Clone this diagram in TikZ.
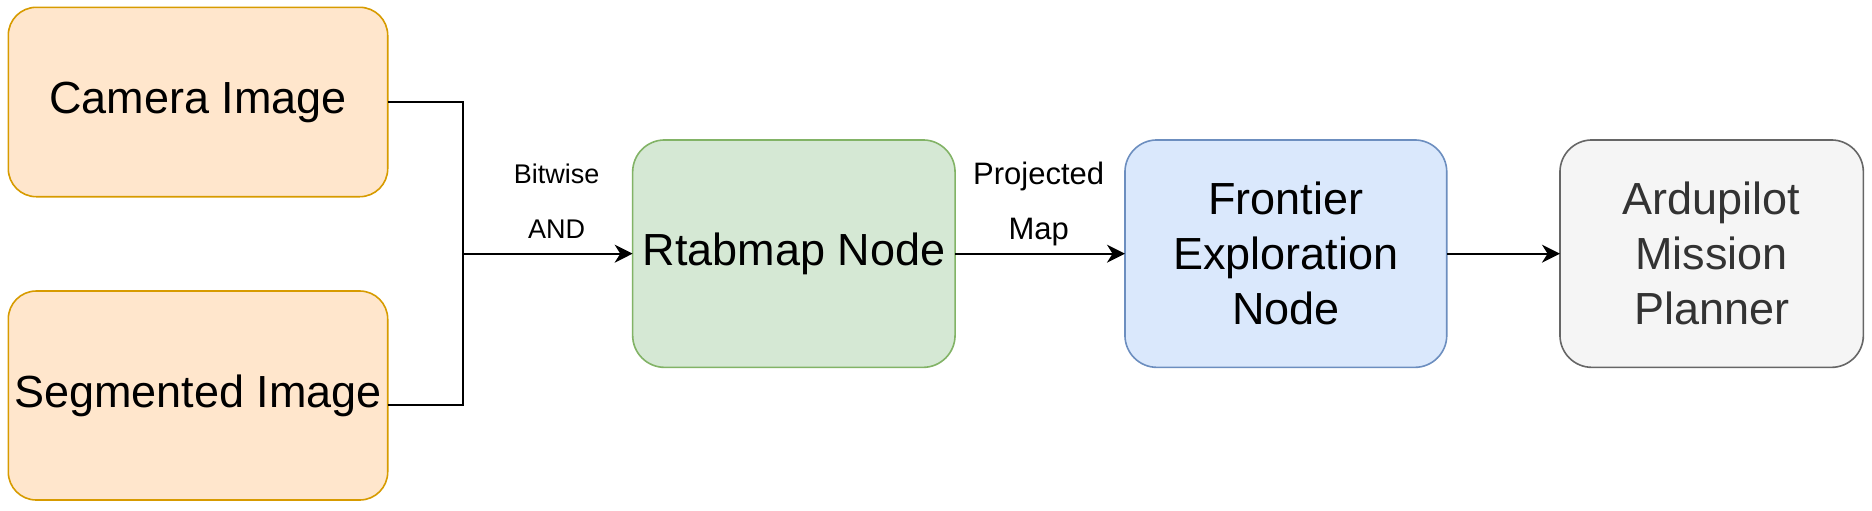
\documentclass[tikz,border=0pt]{standalone}
\usepackage{fontspec}
\setmainfont{Liberation Sans}
\usetikzlibrary{arrows.meta}
\definecolor{orfill}{HTML}{FFE6CC}
\definecolor{ordraw}{HTML}{D79B00}
\definecolor{grfill}{HTML}{D5E8D4}
\definecolor{grdraw}{HTML}{82B366}
\definecolor{blfill}{HTML}{DAE8FC}
\definecolor{bldraw}{HTML}{6C8EBF}
\definecolor{gyfill}{HTML}{F5F5F5}
\definecolor{gydraw}{HTML}{666666}
\definecolor{gytext}{HTML}{333333}
\tikzset{
  box/.style={rectangle, draw, line width=0.8pt, inner sep=0pt, outer sep=0pt,
    align=center, font=\fontsize{22.5}{27.5}\selectfont},
  inbox/.style={box, fill=orfill, draw=ordraw, rounded corners=14pt, minimum width=189.7pt},
  rtabbox/.style={box, fill=grfill, draw=grdraw, rounded corners=16pt},
  frontbox/.style={box, fill=blfill, draw=bldraw, rounded corners=16pt},
  ardubox/.style={box, fill=gyfill, draw=gydraw, text=gytext, rounded corners=16pt},
  conn/.style={draw=black, line width=0.9pt},
  arr/.style={conn, -{Stealth[length=9pt,width=9pt,inset=2.8pt]}},
  lbl/.style={align=center, inner sep=0pt, text=black}
}
\begin{document}
\begin{tikzpicture}[x=0.5pt, y=-0.5pt]
\useasboundingbox (0,0) rectangle (1872,510);
\node[inbox, minimum height=94.7pt] (cam) at (198,102) {Camera Image};
\node[inbox, minimum height=104.5pt] (seg) at (198,395.5) {Segmented Image};
\node[rtabbox, minimum width=161.2pt, minimum height=113.7pt] (rtab) at (793.85,253.65) {Rtabmap Node};
\node[frontbox, minimum width=160.9pt, minimum height=113.7pt] (front) at (1285.85,253.65) {Frontier\\Exploration\\Node};
\node[ardubox, minimum width=151.7pt, minimum height=113.7pt] (ardu) at (1711.65,253.65) {Ardupilot\\Mission\\Planner};
\coordinate (j) at (462.7,253.65);
\draw[conn] (cam.east) -| (j);
\draw[conn] ([yshift=-4.75pt]seg.east) -| (j);
\draw[arr] (j) -- (rtab.west);
\draw[arr] (rtab.east) -- (front.west);
\draw[arr] (front.east) -- (ardu.west);
\node[lbl, font=\fontsize{13.5}{27.5}\selectfont] (lab1) at (556.7,201.6) {Bitwise\\AND};
\node[lbl, font=\fontsize{15.5}{27.5}\selectfont] (lab2) at (1038.7,203.5) {Projected\\Map};
\end{tikzpicture}
\end{document}
